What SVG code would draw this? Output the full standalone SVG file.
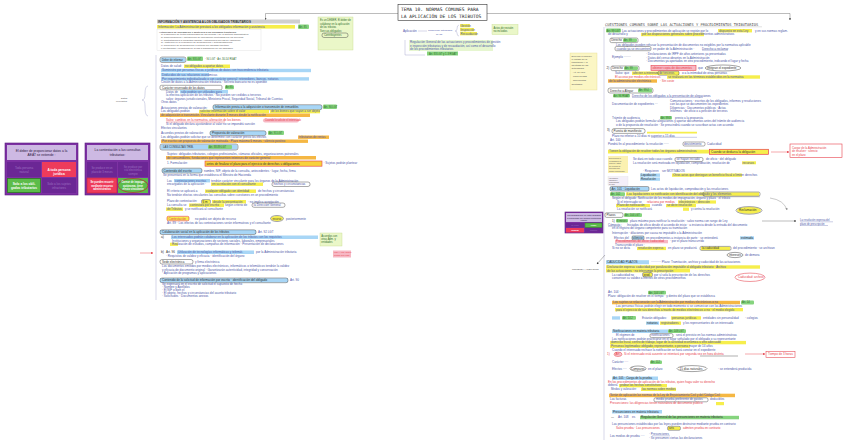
<svg xmlns="http://www.w3.org/2000/svg" width="848" height="447" viewBox="0 0 848 447">
<defs>
<marker id="ah" viewBox="0 0 6 6" refX="5" refY="3" markerWidth="5" markerHeight="5" orient="auto"><path d="M0,0 L6,3 L0,6 z" fill="#333"/></marker>
<marker id="ahr" viewBox="0 0 6 6" refX="5" refY="3" markerWidth="5" markerHeight="5" orient="auto"><path d="M0,0 L6,3 L0,6 z" fill="#e8505a"/></marker>
<marker id="ahg" viewBox="0 0 6 6" refX="5" refY="3" markerWidth="5" markerHeight="5" orient="auto"><path d="M0,0 L6,3 L0,6 z" fill="#888"/></marker>
</defs>
<style>
text{font-family:"Liberation Sans",Arial,sans-serif}
.t{font-size:3px;fill:#4b56a8}
.ts{font-size:2.4px;fill:#555}
.tk{font-size:3px;fill:#333}
.tr{font-size:3px;fill:#e8404c}
.tg{font-size:2.6px;fill:#2e6b2a}
.th{font-family:"DejaVu Sans Mono",monospace;fill:#222}
.hy{fill:#f6ee4c}
.ho{fill:#f5b743}
.hb{fill:#a8d6f6}
.hg{fill:#86d47e}
.hp{fill:#f7b8c4}
.hgr{fill:#cfcfcf}
.bx{fill:none;stroke:#444;stroke-width:.45}
.bxr{fill:none;stroke:#e8404c;stroke-width:.6}
.ov{fill:none;stroke:#333;stroke-width:.45}
.ln{fill:none;stroke:#555;stroke-width:.4}
.lnl{fill:none;stroke:#8a8fc0;stroke-width:.35}
.note{fill:#eaf7c8;stroke:#c5dc8e;stroke-width:.4}
.pur{fill:#7d31a3;stroke:#5b1c80;stroke-width:.6}
.phd{fill:#cdb9e3}
.pdk{fill:#6b2795}
.pred{fill:#ee3b5b}
.pgr{fill:#5cbc4a}
.ph{font-size:3.3px;fill:#2a1740;text-anchor:middle}
.pw{font-size:3.2px;fill:#fff;text-anchor:middle;font-weight:bold}
.pf{font-size:3px;fill:#9c6fc0;text-anchor:middle}
</style>
<rect width="848" height="447" fill="#ffffff"/>

<g id="connectors">
<path class="ln" d="M398,13.5 H265.5 V20" marker-end="url(#ah)"/>
<path class="ln" d="M487,13.5 H790 V20" marker-end="url(#ah)"/>
<path class="lnl" d="M156,55 V300"/>
<path class="lnl" d="M604,27 V440"/>
<path class="lnl" d="M148,86 Q145,86 145,94 Q145,100 142,100 Q145,100 145,106 Q145,116 148,116"/>
<path d="M140,253 H153" stroke="#e8505a" stroke-width=".5" fill="none" marker-end="url(#ahr)"/>
<path d="M771,152 H789" stroke="#e8505a" stroke-width=".5" fill="none" marker-end="url(#ahr)"/>
<path d="M745,354 H765" stroke="#e8505a" stroke-width=".5" fill="none" marker-end="url(#ahr)"/>
<path class="ln" d="M605,255 L597,264" marker-end="url(#ah)"/>
<path d="M770,198 Q784,200 787,210" stroke="#888" stroke-width=".45" fill="none" marker-end="url(#ahg)"/>
<path class="ln" d="M762,221 H796" marker-end="url(#ah)"/>
<path class="lnl" d="M405,40 V55 H425"/>
<path class="lnl" d="M418,31 H427"/>
<path class="lnl" d="M459,25 Q457,25 457,29 Q457,31 455,31 Q457,31 457,33 Q457,36 459,36"/>
<path class="lnl" d="M335,38 V45" marker-end="url(#ah)"/>
</g>

<g id="title">
<rect x="398" y="4.5" width="89" height="16" fill="#fff" stroke="#333" stroke-width=".6"/>
<text class="th" x="401" y="11" style="font-size:4.6px">TEMA 10. NORMAS COMUNES PARA</text>
<text class="th" x="401" y="18" style="font-size:4.6px">LA APLICACIÓN DE LOS TRIBUTOS</text>
</g>

<g id="aplicacion">
<text class="t" x="403" y="32">Aplicación</text>
<text class="t" x="428" y="31" style="font-size:2.3px">Comprende actividades</text>
<text class="t" x="436" y="34.5" style="font-size:2.3px">de las</text>
<rect class="hy" x="460" y="24" width="10" height="3.3"/>
<text class="t" x="460.5" y="26.5">Gestión</text>
<rect class="hy" x="460" y="28" width="14" height="3.3"/>
<text class="t" x="460.5" y="30.5">Inspección</text>
<rect class="hy" x="460" y="32" width="17" height="3.3"/>
<text class="t" x="460.5" y="34.5">Recaudación</text>
<rect class="note" x="492" y="24.5" width="26" height="10"/>
<text class="tg" x="493.5" y="28.5">Actos de revisión</text>
<text class="tg" x="493.5" y="32">no incluidos</text>
<rect fill="#e6f6d0" x="409" y="40" width="84" height="11"/>
<text class="t" x="410" y="43">Regulación General de las actuaciones y procedimientos de gestión</text>
<text class="t" x="410" y="46.5">e inspección tributarias y de recaudación, así como el desarrollo</text>
<text class="t" x="410" y="50">de los procedimientos tributarios</text>
<rect class="hg" x="427" y="51.5" width="31" height="4"/>
<text class="tg" x="429" y="54.5">Art. 83 LGT y 1-3 RGAT</text>
</g>

<g id="sticky-colab">
<rect class="note" x="318" y="17" width="35" height="33"/>
<text class="tg" x="320" y="21">Es un DEBER. El deber de</text>
<text class="tg" x="320" y="24.5">colaborar en la aplicación</text>
<text class="tg" x="320" y="28">de los tributos</text>
<text class="tg" x="320" y="31.5">Son sus obligados:</text>
<rect class="bx" x="322" y="33" width="26" height="4.5" rx="2"/>
<text class="tg" x="324" y="36.3">Contribuyentes</text>
</g>

<g id="left-info">
<rect class="hgr" x="157" y="19.5" width="143" height="4"/>
<text class="tk" x="158" y="22.5" font-weight="bold">INFORMACIÓN Y ASISTENCIA A LOS OBLIGADOS TRIBUTARIOS</text>
<rect class="hy" x="157" y="25" width="138" height="3.6"/>
<text class="t" x="158" y="27.6">Información: La Administración prestará a los obligados información y asistencia</text>
<rect class="hg" x="298" y="24.6" width="11" height="4.4" rx="1"/>
<text class="tg" x="299" y="27.8">Art. 85</text>
<rect fill="#fff" stroke="#ddd" stroke-width=".4" x="157" y="29.5" width="104" height="21"/>
<text class="ts" x="159" y="32.5" font-weight="bold">Actuaciones de información y asistencia a los obligados tributarios:</text>
<text class="ts" x="161" y="35.2">a) Publicación de textos actualizados de las normas y de la doctrina administrativa.</text>
<text class="ts" x="161" y="37.9">b) Comunicaciones y actuaciones de información efectuadas por los servicios.</text>
<text class="ts" x="161" y="40.6">c) Contestaciones a consultas escritas y actuaciones previas de valoración.</text>
<text class="ts" x="161" y="43.3">d) Asistencia en la realización de declaraciones y autoliquidaciones.</text>
<text class="ts" x="161" y="46">e) Confección de declaraciones a petición del obligado tributario.</text>
<text class="ts" x="161" y="48.7">f) Certificados y programas de ayuda a disposición de los obligados.</text>
</g>

<g id="left-colab">
<rect class="hb" x="160.5" y="57.5" width="25" height="4.5" rx="1.5"/>
<rect class="bx" x="160" y="57" width="26" height="5.5" rx="2"/>
<text class="tk" x="162" y="60.8" style="font-size:2.6px">Deber de informar</text>
<rect class="hg" x="187" y="56.5" width="16" height="4.5" rx="1"/>
<text class="tg" x="188" y="59.6">Art. 93 LGT</text>
<text class="tg" x="205" y="59.6">· 94 LGT · Art. 30-54 RGAT</text>
<text class="t" x="161" y="67">Datos de salud:</text>
<rect class="hy" x="184" y="64.5" width="46" height="3.5"/>
<text class="t" x="185" y="67">no obligados a aportar datos</text>
<rect class="hb" x="161" y="68.8" width="150" height="3.4"/>
<text class="t" x="162" y="71.3">Suministro por personas físicas o jurídicas de datos con trascendencia tributaria</text>
<rect class="hb" x="161" y="73" width="48" height="3.4"/>
<text class="t" x="162" y="75.5">Deducidos de sus relaciones económicas</text>
<rect class="hb" x="161" y="77.2" width="148" height="3.4"/>
<text class="t" x="162" y="79.7">Por requerimiento individualizado o con carácter general: retenedores, bancos, notarios</text>
<text class="t" x="161" y="83">Cesión de datos a la Administración tributaria · Secreto bancario no es oponible</text>
</g>

<g id="left-reserva">
<rect class="bx" x="160" y="85.3" width="62" height="4.5" rx="1.5"/>
<text class="tk" x="162" y="88.6">Carácter reservado de los datos</text>
<rect class="hg" x="225" y="85.3" width="9" height="4" rx="1"/>
<text class="tg" x="225.8" y="88.3">Art 95</text>
<text class="t" x="166" y="92.5">Datos de</text>
<rect class="hb" x="180" y="90" width="48" height="3.4"/>
<text class="t" x="181" y="92.5">sólo podrán ser utilizados para</text>
<text class="t" x="166" y="96">la efectiva aplicación de los tributos · No pueden ser cedidos a terceros</text>
<text class="t" x="166" y="99.5">salvo: órganos jurisdiccionales, Ministerio Fiscal, Seguridad Social, Tribunal de Cuentas</text>
<text class="t" x="161" y="103">Otros datos</text>
</g>

<g id="left-valoracion">
<text class="t" x="161" y="108.5">Actuaciones previas de valoración:</text>
<rect class="hb" x="213" y="105" width="109" height="4.5" rx="1.5"/>
<rect class="bx" x="213" y="104.7" width="109" height="5" rx="2"/>
<text class="tk" x="215" y="108.4">Información previa a la adquisición o transmisión de inmuebles</text>
<rect class="hg" x="323" y="104.5" width="14" height="4.5" rx="1"/>
<text class="tg" x="324" y="107.8">Art. 90 LGT</text>
<text class="t" x="161" y="112.3">Los obligados podrán</text>
<rect class="hy" x="199" y="109.8" width="70" height="3.5"/>
<text class="t" x="200" y="112.3">solicitar información sobre el valor</text>
<rect class="hy" x="270" y="109.8" width="50" height="3.5"/>
<text class="t" x="271" y="112.3">de los bienes que vayan a ser objeto</text>
<rect class="ho" x="160" y="113.5" width="150" height="3.5"/>
<text class="t" x="161" y="116">de adquisición o transmisión. Vinculante durante 3 meses desde la notificación</text>
<text class="tr" x="166" y="121">Salvo: cambios en la normativa, alteración de los bienes</text>
<path d="M166,122 H225" stroke="#e8404c" stroke-width=".4"/>
<rect class="hp" x="263" y="118.5" width="36" height="4" rx="2"/>
<text class="tr" x="265" y="121.4" style="font-size:2.6px">Cuando lo solicite el interesado</text>
<text class="t" x="166" y="125">Si el obligado declara ajustándose al valor no se impondrá sanción</text>
<text class="t" x="161" y="128.5">Efectos vinculantes</text>
</g>

<g id="left-acuerdos">
<text class="t" x="161" y="134">Acuerdos previos de valoración:</text>
<rect class="hb" x="210" y="131" width="56" height="4.3" rx="1.5"/>
<rect class="bx" x="210" y="130.8" width="56" height="4.8" rx="2"/>
<text class="tk" x="212" y="134.2">Propuesta de valoración</text>
<rect class="hg" x="268" y="130.8" width="16" height="4.3" rx="1"/>
<text class="tg" x="269" y="134">Art. 91 LGT</text>
<text class="t" x="161" y="138">Los obligados podrán solicitar que se determine con carácter previo los efectos</text>
<rect class="ho" x="298" y="135.5" width="31" height="3.4"/>
<text class="t" x="299" y="138">tributarios de rentas</text>
<rect class="ho" x="161" y="139.5" width="147" height="3.4"/>
<text class="t" x="162" y="142">Por escrito con propuesta de valoración motivada · Plazo máximo 6 meses · silencio positivo</text>
</g>

<g id="left-consultas">
<rect class="hb" x="160.5" y="144.5" width="77" height="5" rx="1.5"/>
<rect class="bx" x="160" y="144" width="78" height="6" rx="2"/>
<text class="tk" x="163" y="148.2" style="font-size:2.8px">LAS CONSULTAS TRIB.</text>
<rect class="hg" x="208" y="145" width="24" height="4" rx="1"/>
<text class="tg" x="209" y="148">Art. 88-89 LGT</text>
<text class="t" x="167" y="155">Sujetos: obligados tributarios, colegios profesionales, cámaras oficiales, organizaciones patronales</text>
<rect class="ho" x="166" y="156" width="150" height="3.5"/>
<text class="t" x="167" y="158.5">de consumidores, fundaciones que representen intereses de carácter general</text>
<text class="t" x="167" y="164">1. Formulación:</text>
<rect fill="#f7d23c" stroke="#e8404c" stroke-width=".6" x="205" y="161" width="117" height="5.2"/>
<text class="tk" x="206.5" y="164.5">antes de finalizar el plazo para el ejercicio de derechos u obligaciones</text>
<text class="t" x="323.5" y="164">· Sujetos podrán plantear</text>
<rect class="hb" x="162" y="168.5" width="40" height="4.2" rx="1.5"/>
<rect class="bx" x="162" y="168.2" width="40" height="4.8" rx="2"/>
<text class="tk" x="163.5" y="171.6">Contenido del escrito</text>
<text class="t" x="204" y="171.6">nombre, NIF, objeto de la consulta, antecedentes · lugar, fecha, firma</text>
<text class="t" x="163" y="175.5">Se presentará en la forma que establezca el Ministro de Hacienda</text>
<text class="t" x="167" y="181.5">Las</text>
<rect class="hb" x="174" y="179" width="36" height="3.4"/>
<text class="t" x="175" y="181.5">contestaciones escritas</text>
<text class="t" x="211" y="181.5">tendrán carácter vinculante para los órganos de la Administración</text>
<text class="t" x="167" y="185">encargados de la aplicación ·</text>
<rect class="hy" x="211" y="182.5" width="52" height="3.4"/>
<text class="t" x="212" y="185">en su relación con el consultante</text>
<rect class="bx" x="272" y="182" width="38" height="4.5" rx="2"/>
<text class="t" x="273.5" y="185.2">hechos y circunstancias</text>
<text class="t" x="167" y="192">El criterio se aplicará a</text>
<rect class="hy" x="205" y="189.5" width="51" height="3.4"/>
<text class="t" x="206" y="192">cualquier obligado con identidad</text>
<text class="t" x="258" y="192">de hechos y circunstancias</text>
<text class="t" x="167" y="195.5">No tendrán efectos vinculantes las consultas sobre cuestiones en un procedimiento</text>
<text class="t" x="167" y="202">Plazo de contestación:</text>
<rect class="hy" x="202" y="200" width="8" height="3.6"/>
<rect class="bx" x="201.5" y="199.6" width="9" height="4.4" rx="1.5"/>
<text class="tk" x="202.6" y="202.5">6 m</text>
<rect class="hy" x="212" y="200" width="34" height="3.4"/>
<text class="t" x="213" y="202.5">desde la presentación</text>
<text class="t" x="248" y="202.5">· no implica aceptación</text>
<text class="t" x="167" y="206">La consulta se</text>
<rect class="hy" x="189" y="203.5" width="35" height="3.4"/>
<text class="t" x="190" y="206">contestará por escrito</text>
<text class="t" x="225" y="206">según criterio de</text>
<rect class="bx" x="252" y="203" width="33" height="4.3" rx="2"/>
<text class="t" x="253.5" y="206">la Dirección General</text>
<rect class="hy" x="166" y="207.5" width="17" height="3.4"/>
<text class="t" x="167" y="210">de Tributos</text>
<text class="t" x="185" y="210">y se notificará al consultante</text>
<rect class="hy" x="167" y="216.5" width="22" height="4"/>
<rect class="bxr" x="167" y="216.3" width="22" height="4.5" rx="1.5"/>
<text class="tr" x="168.5" y="219.6">Contestación</text>
<text class="t" x="195" y="219.5">no podrá ser objeto de recurso</text>
<ellipse class="hy" cx="277" cy="218.5" rx="6" ry="2.6"/>
<ellipse class="ov" cx="277" cy="218.5" rx="6.5" ry="3"/>
<text class="tk" x="272.5" y="219.6" style="font-size:2.6px">recurso</text>
<text class="t" x="286" y="219.5">posteriormente</text>
<text class="t" x="167" y="223.5">Art. 89 · Los efectos de las contestaciones serán informativos y el consultante</text>
</g>

<g id="left-colaboracion">
<rect class="hb" x="160" y="230" width="96" height="4.2"/>
<rect class="bx" x="160" y="229.8" width="96" height="4.7" rx="2"/>
<text class="tk" x="162" y="233.2">Colaboración social en la aplicación de los tributos</text>
<text class="t" x="258" y="233">Art. 92 LGT</text>
<text class="tk" x="161" y="238" style="font-size:3.3px">a)</text>
<rect class="hb" x="171" y="235.5" width="147" height="3.5"/>
<text class="t" x="172" y="238">Los interesados podrán colaborar en la aplicación de los tributos con los requisitos</text>
<text class="t" x="172" y="241.8">Instituciones y organizaciones de sectores sociales, laborales, empresariales</text>
<rect class="hy" x="170" y="242.7" width="8" height="3.2"/>
<text class="t" x="172" y="245.4">Realización de estudios, campañas de información · Presentación de declaraciones</text>
<rect class="note" x="320" y="233" width="22" height="13"/>
<text class="tg" x="321.3" y="236.5">Acuerdos con</text>
<text class="tg" x="321.3" y="239.5">otras Adm. y</text>
<text class="tg" x="321.3" y="242.5">entidades</text>
<text class="tk" x="161" y="253" style="font-size:3.2px">b)</text>
<text class="tk" x="166" y="253">Art. 96</text>
<rect class="hb" x="177" y="250.5" width="77" height="3.5"/>
<text class="t" x="178" y="253">Utilización de tecnologías informáticas y telemát.</text>
<text class="t" x="256" y="253">por la Administración tributaria</text>
<rect class="hp" x="333" y="250.5" width="18" height="7"/>
<text class="tr" x="334" y="253.3" style="font-size:2.2px">Las AA.PP. deben</text>
<text class="tr" x="334" y="256.3" style="font-size:2.2px">contar con ellas</text>
<text class="t" x="166" y="257">· Requisitos de validez y eficacia · identificación del órgano</text>
<rect class="bx" x="160" y="259.5" width="33" height="4.5" rx="2"/>
<text class="tk" x="162" y="262.8">Sede electrónica</text>
<text class="t" x="195" y="262.8">y firma electrónica</text>
<text class="t" x="162" y="267">Los documentos emitidos por medios electrónicos, informáticos o telemáticos tendrán la validez</text>
<text class="t" x="162" y="270.5">y eficacia de documento original · Garantizarán autenticidad, integridad y conservación</text>
<text class="t" x="162" y="274">· Aplicación de programas y aplicaciones</text>
<rect class="hb" x="160" y="278.2" width="128" height="4.2"/>
<rect class="bx" x="160" y="278" width="128" height="4.7" rx="2"/>
<text class="tk" x="162" y="281.4">Contenido de la solicitud de información por escrito · identificación del obligado</text>
<text class="t" x="290" y="281.3">Art. 90</text>
<text class="t" x="162" y="284.8">Se expresará en el escrito de solicitud el supuesto de hecho</text>
<text class="t" x="162" y="288.3">· Nombre y Apellidos</text>
<text class="t" x="162" y="291.3">· El NIF o bien el</text>
<text class="t" x="162" y="294.3">· El objeto, hechos y circunstancias del asunto tributario</text>
<text class="t" x="162" y="297.3">· Solicitudes · Documentos anexos</text>
</g>

<g id="q-datos">
<text class="ts" x="121" y="98.5">Datos</text>
<text class="ts" x="116" y="101.5">relevantes</text>
</g>

<g id="quiz-datos">
<rect class="pur" x="5" y="143" width="73" height="52"/>
<rect class="phd" x="7" y="145" width="69" height="15"/>
<text class="ph" x="41.5" y="151.5">El deber de proporcionar datos a la</text>
<text class="ph" x="41.5" y="156">AEAT se extiende :</text>
<rect class="pdk" x="7" y="162" width="34" height="15"/>
<text class="pf" x="24" y="168.5">Toda persona</text>
<text class="pf" x="24" y="172.5">natural</text>
<rect class="pred" x="42" y="162" width="34" height="15"/>
<text class="pw" x="59" y="170.5">A toda persona</text>
<text class="pw" x="59" y="174.5">jurídica</text>
<rect class="pgr" x="7.5" y="178.5" width="33" height="14" stroke="#2d7a24" stroke-width=".8"/>
<text class="pw" x="24" y="184.5">Solo a los obli-</text>
<text class="pw" x="24" y="188.5">gados tributarios</text>
<rect class="pdk" x="42" y="178" width="34" height="15"/>
<text class="pf" x="59" y="184.5">Solo a los sujetos</text>
<text class="pf" x="59" y="188.5">infractores</text>
</g>

<g id="quiz-consultas">
<rect class="pur" x="85" y="143" width="65" height="52"/>
<rect class="phd" x="87" y="145" width="61" height="15"/>
<text class="ph" x="117.5" y="151">La contestación a las consultas</text>
<text class="ph" x="117.5" y="155.5">tributarias:</text>
<rect class="pdk" x="87" y="162" width="30" height="15"/>
<text class="pf" x="102" y="168.5" style="font-size:2.7px">Se produce en un</text>
<text class="pf" x="102" y="172.5" style="font-size:2.7px">plazo de 3 meses</text>
<rect class="pdk" x="118" y="162" width="30" height="15"/>
<text class="pf" x="133" y="167.5" style="font-size:2.7px">Se produce por</text>
<text class="pf" x="133" y="171" style="font-size:2.7px">vía electrónica</text>
<text class="pf" x="133" y="174.5" style="font-size:2.7px">siempre</text>
<rect class="pred" x="87" y="178" width="30" height="15" stroke="#c0203a" stroke-width=".6"/>
<text class="pw" x="102" y="183" style="font-size:2.6px">Se pueden recurrir</text>
<text class="pw" x="102" y="186.5" style="font-size:2.6px">mediante recurso</text>
<text class="pw" x="102" y="190" style="font-size:2.6px">administrativo</text>
<rect class="pgr" x="118" y="178" width="30" height="15"/>
<ellipse cx="133" cy="185.5" rx="15" ry="7" fill="none" stroke="#c0203a" stroke-width=".7"/>
<text class="pw" x="133" y="183" style="font-size:2.6px">Carece de impugn.</text>
<text class="pw" x="133" y="186.5" style="font-size:2.6px">autónoma, tiene</text>
<text class="pw" x="133" y="190" style="font-size:2.6px">efecto vinculante</text>
</g>

<g id="quiz-medios">
<rect class="pur" x="565" y="212" width="38" height="21"/>
<rect class="phd" x="566" y="213" width="36" height="9"/>
<text class="ph" x="584" y="216" style="font-size:2px">Los obligados que no estén obligados</text>
<text class="ph" x="584" y="218.5" style="font-size:2px">a relacionarse por medios electrónicos</text>
<text class="ph" x="584" y="221" style="font-size:2px">podrán:</text>
<rect class="pdk" x="566" y="223" width="18" height="4.5"/>
<text class="pf" x="575" y="226.2" style="font-size:2px">no elegir</text>
<rect class="pgr" x="585" y="223" width="17" height="4.5" stroke="#2d7a24" stroke-width=".5"/>
<text class="pw" x="593.5" y="226.2" style="font-size:2px">elegir</text>
<rect class="pred" x="566" y="228" width="18" height="4.5"/>
<text class="pw" x="575" y="231.2" style="font-size:2px">cambiar</text>
<rect class="pdk" x="585" y="228" width="17" height="4.5"/>
<text class="pf" x="593.5" y="231.2" style="font-size:2px">ninguna</text>
<text class="ts" x="572" y="270">NOMBRE Y APELLIDOS</text>
</g>

<g id="sticky-yellow">
<rect fill="#fbf6c4" stroke="#e6dc8a" stroke-width=".4" x="570" y="53" width="27" height="37"/>
<text class="ts" x="571.5" y="57">Derecho a conocer</text>
<text class="ts" x="571.5" y="60">el estado de la</text>
<text class="ts" x="571.5" y="63">tramitación y la</text>
<text class="ts" x="571.5" y="66">identidad de las</text>
<text class="ts" x="571.5" y="69">autoridades</text>
<text class="ts" x="571.5" y="73">· Art. 34 LGT</text>
<text class="ts" x="571.5" y="77">· copia sellada</text>
<text class="ts" x="571.5" y="81">· documentos</text>
<text class="ts" x="571.5" y="85">aportados</text>
</g>

<g id="right-head">
<text class="th" x="605" y="25.5" style="font-size:3.7px;fill:#444">CUESTIONES COMUNES SOBRE LAS ACTUACIONES Y PROCEDIMIENTOS TRIBUTARIOS</text>
<path d="M605,26.8 H762" stroke="#999" stroke-width=".3"/>
<rect class="hg" x="606" y="28.6" width="15" height="4" rx="1"/>
<text class="tg" x="606.8" y="31.6">Art. 99 LGT</text>
<text class="t" x="622" y="31.6">Las actuaciones y procedimientos de aplicación se regirán por lo</text>
<rect class="hy" x="718" y="29" width="34" height="3.4"/>
<text class="t" x="719" y="31.6">dispuesto en esta Ley</text>
<text class="t" x="755" y="31.6">y en sus normas reglam.</text>
<text class="t" x="608" y="35.4">de desarrollo y</text>
<rect class="hy" x="641" y="32.8" width="63" height="3.4"/>
<text class="t" x="642" y="35.4">por las disposiciones generales sobre procedimientos administrativos</text>
</g>

<g id="right-derechos">
<rect class="bx" x="610" y="38" width="28" height="4.6" rx="1.5"/>
<text class="tk" x="611.3" y="41.3" style="font-size:2.8px">Derecho</text>
<rect class="hg" x="623" y="38.6" width="14" height="3.5" rx="1"/>
<text class="tg" x="624" y="41.2">Art. 99</text>
<text class="t" x="616" y="45.5">Los obligados pueden rehusar la presentación de documentos no exigibles por la normativa aplicable</text>
<rect class="bx" x="615" y="46.5" width="36" height="4.2" rx="1.5"/>
<text class="t" x="616.5" y="49.5">cuando ya se encuentren</text>
<text class="t" x="653" y="49.5">en poder de la Administración ·</text>
<text class="t" x="702" y="49.5">Derecho a reclamar</text>
<path d="M702,50.3 H728" stroke="#4b56a8" stroke-width=".3"/>
<text class="t" x="612" y="57.5">Ejemplo ·······</text>
<text class="t" x="646" y="55">· Declaraciones de IRPF de años anteriores ya presentadas</text>
<text class="t" x="646" y="58.5">· Datos del censo obrantes en la Administración</text>
<text class="t" x="646" y="62">· Documentos ya aportados en otro procedimiento, indicando el lugar y fecha</text>
<text class="tk" x="606.5" y="69">2)</text>
<rect class="bx" x="611" y="66" width="28" height="4.6" rx="1.5"/>
<text class="tk" x="612.3" y="69.3" style="font-size:2.8px">Derecho</text>
<rect class="hg" x="624" y="66.6" width="14" height="3.5" rx="1"/>
<text class="tg" x="625" y="69.2">Art. 99</text>
<rect class="hp" x="651" y="65.5" width="45" height="4.8"/>
<rect class="bxr" x="651" y="65.5" width="45" height="4.8"/>
<text class="tr" x="652.5" y="68.9">obtener copia de documentos</text>
<text class="t" x="698" y="68.9">que</text>
<ellipse class="ov" cx="723" cy="68" rx="18" ry="3"/>
<text class="tk" x="707" y="69">integran el expediente</text>
<text class="t" x="615" y="74">Salvo: que</text>
<rect class="hy" x="632" y="71.5" width="47" height="3.4"/>
<text class="t" x="633" y="74">afecten a intereses de terceros</text>
<rect class="bx" x="658" y="71.2" width="21" height="4" rx="1.5"/>
<text class="t" x="682" y="74">o a la intimidad de otras personas</text>
<text class="tr" x="615" y="77.8">El acceso por medios electrónicos</text>
<rect class="hy" x="667" y="75.3" width="93" height="3.4"/>
<text class="t" x="668" y="77.8">se realizará en los términos establecidos en la normativa</text>
<rect class="ho" x="608" y="79.3" width="49" height="3.4"/>
<text class="t" x="609" y="81.8">de la administración electrónica</text>
<text class="tr" x="660" y="81.8">· Sin coste</text>
</g>

<g id="right-alegar">
<rect class="bx" x="608" y="88" width="45" height="5" rx="2"/>
<text class="tk" x="610" y="91.6">Derecho a Alegar</text>
<rect class="hg" x="638" y="88.6" width="14" height="3.8" rx="1"/>
<text class="tg" x="639" y="91.4">Art. 99.4</text>
<rect class="hg" x="613" y="94" width="17" height="3.6" rx="1"/>
<text class="tg" x="613.8" y="96.8">Art. 96 RGAT</text>
<text class="t" x="632" y="96.8">Derecho de los obligados a la presentación de alegaciones</text>
<path d="M632,97.5 H703" stroke="#4b56a8" stroke-width=".3"/>
<text class="t" x="612" y="104.5">Documentación de expedientes ···</text>
<text class="t" x="670" y="101.5">Comunicaciones · escritos de los obligados, informes y resoluciones</text>
<text class="t" x="670" y="105">con las que se documenten los expedientes</text>
<text class="t" x="670" y="108.5">Diligencias · Documentos públicos · Actas</text>
<text class="t" x="670" y="112">Informes · de oficio o a petición de terceros</text>
<text class="t" x="612" y="118.5">Trámite de audiencia</text>
<rect class="hg" x="660" y="116" width="12" height="3.5" rx="1"/>
<text class="tg" x="661" y="118.7">Art. 99.8</text>
<text class="t" x="675" y="118.5">previo a la propuesta</text>
<text class="t" x="616" y="122">Los obligados podrán formular alegaciones y aportar documentos antes del trámite de audiencia</text>
<text class="t" x="616" y="125.5">o de la propuesta de resolución · Se prescindirá cuando se suscriban actas con acuerdo</text>
<text class="tk" x="607" y="131">3)</text>
<rect class="bx" x="612" y="128.6" width="33" height="4.8" rx="2"/>
<text class="tk" x="613.5" y="132">Puesta de manifiesto</text>
<path d="M647,132.6 H697" stroke="#f6ee4c" stroke-width="1.8"/>
<text class="t" x="612" y="136.5">Plazo no inferior a 10 días ni superior a 15 días</text>
<path d="M651,137.3 H697" stroke="#4b56a8" stroke-width=".3"/>
</g>

<g id="right-terminacion">
<text class="t" x="610" y="141.2">Art. 100</text>
<text class="t" x="608" y="145">Pondrá fin al procedimiento: la resolución ·····</text>
<rect class="bx" x="683" y="142" width="22" height="4" rx="1.5"/>
<text class="t" x="684" y="145">desistimiento</text>
<text class="t" x="707" y="145">Caducidad</text>
<rect class="hy" x="608" y="149.7" width="101" height="3.8"/>
<text class="t" x="609" y="152.4">Tienen la obligación de resolver todos los órganos administrativos</text>
<rect fill="#f6ee4c" stroke="#e8404c" stroke-width=".7" x="709.5" y="149.3" width="59" height="5"/>
<text class="tk" x="711" y="152.7">Cuando se deduzca la obligación</text>
<rect fill="#fff" stroke="#e8404c" stroke-width=".6" x="790" y="144" width="52" height="13.5"/>
<text class="tr" x="792" y="148.8" style="font-size:2.8px">Cargar de la Administración</text>
<text class="tr" x="792" y="152.4" style="font-size:2.8px">de resolver · silencio</text>
<text class="tr" x="792" y="156" style="font-size:2.8px">en el plazo</text>
<rect fill="#fbf1b0" x="608" y="156" width="20" height="17"/>
<text class="ts" x="609" y="159" style="font-size:1.8px">Excepciones a</text>
<text class="ts" x="609" y="161.5" style="font-size:1.8px">la obligación de</text>
<text class="ts" x="609" y="164" style="font-size:1.8px">resolver: actos</text>
<text class="ts" x="609" y="166.5" style="font-size:1.8px">de ejercicio de</text>
<text class="ts" x="609" y="169" style="font-size:1.8px">derechos que</text>
<text class="ts" x="609" y="171.5" style="font-size:1.8px">deban comunicarse</text>
<rect fill="#f4eff9" stroke="#ddd" stroke-width=".3" x="608" y="176.5" width="20" height="9"/>
<text class="ts" x="609" y="178.8" style="font-size:1.6px">Los actos de</text>
<text class="ts" x="609" y="180.7" style="font-size:1.6px">liquidación y</text>
<text class="ts" x="609" y="182.6" style="font-size:1.6px">comprobación</text>
<text class="ts" x="609" y="184.5" style="font-size:1.6px">de valor</text>
<text class="t" x="633" y="160">Se dará en todo caso cuando</text>
<rect class="bx" x="675" y="157.5" width="28" height="4" rx="1.5"/>
<text class="t" x="676.5" y="160">se hayan iniciado</text>
<text class="t" x="706" y="160">de oficio · del obligado</text>
<text class="t" x="633" y="163.5">La resolución será motivada en liquidación, comprobación, resolución de</text>
<rect class="hy" x="742" y="161.3" width="14" height="3"/>
<text class="t" x="742.5" y="163.5">recursos</text>
<text class="t" x="643" y="172">· Requieren</text>
<text class="t" x="662" y="172">ser MOTIVADOS</text>
<rect class="hb" x="640" y="173.5" width="20" height="3.3"/>
<text class="tk" x="641" y="175.9">Liquidación</text>
<rect class="hy" x="672" y="173.5" width="70" height="3.3"/>
<text class="t" x="673" y="175.9">Otros actos que deniegan un beneficio fiscal o limiten derechos</text>
<rect class="hb" x="640" y="177.5" width="20" height="3.3"/>
<text class="tk" x="641" y="179.9">Resolución</text>
<rect class="hb" x="610" y="186.8" width="39" height="4" rx="1"/>
<rect class="bx" x="610" y="186.5" width="39" height="4.5" rx="1.5"/>
<text class="tk" x="611.5" y="189.8">Art. 101 · Liquidación</text>
<text class="t" x="651" y="189.8">Los actos de liquidación, comprobación y las resoluciones</text>
<rect class="hg" x="610" y="192.2" width="15" height="3.8" rx="1"/>
<text class="tg" x="611" y="195">Art. 102</text>
<rect class="hy" x="626" y="192.4" width="133" height="3.4"/>
<text class="t" x="627" y="195">Las liquidaciones se notificarán con identificación del obligado y los elementos</text>
<rect class="bx" x="703" y="192" width="57" height="4.2" rx="1.5"/>
</g>

<g id="right-plazos">
<text class="t" x="612" y="199.4">Según el obligado: Notificación de los medios de impugnación, órgano y plazo · el tributo</text>
<path d="M612,196.8 H760" stroke="#555" stroke-width=".3"/>
<text class="t" x="617" y="202.7">Si el interesado se</text>
<text class="tr" x="647" y="202.7">relaciona por medios</text>
<rect class="hy" x="678" y="200.4" width="38" height="3.2"/>
<text class="t" x="679" y="202.7">electrónicos · dirección</text>
<rect class="hy" x="616" y="204" width="34" height="3.2"/>
<text class="t" x="617" y="206.3">Plazo de notificación</text>
<text class="t" x="652" y="206.3">cuando</text>
<rect class="hy" x="666" y="204" width="30" height="3.2"/>
<text class="t" x="667" y="206.3">se dicte resolución</text>
<text class="t" x="617" y="210">La resolución se notificará</text>
<rect class="hy" x="683" y="207.6" width="6" height="3.2"/>
<text class="t" x="691" y="210">y contra la resolución</text>
<ellipse class="hy" cx="749" cy="210.4" rx="12" ry="3.3"/>
<ellipse class="ov" cx="749" cy="210.4" rx="13" ry="3.8"/>
<text class="tk" x="739" y="211.4">Reclamación</text>
<rect class="bx" x="605" y="212.8" width="18" height="4.6" rx="1.5"/>
<text class="tk" x="606.5" y="216.2">Plazos</text>
<rect class="hg" x="624" y="213.2" width="18" height="3.8" rx="1"/>
<text class="tg" x="625" y="216">Art. 104 LGT</text>
<text class="tk" x="612" y="221.6">1)</text>
<rect class="hg" x="616" y="219" width="12" height="3.6" rx="1"/>
<text class="tg" x="617" y="221.7">6 meses</text>
<text class="t" x="630" y="221.6">plazo máximo para notificar la resolución · salvo norma con rango de Ley</text>
<text class="t" x="800" y="221" style="font-size:2.6px">La resolución expresa del</text>
<path d="M800,221.8 H833" stroke="#4b56a8" stroke-width=".3"/>
<text class="t" x="800" y="224.8" style="font-size:2.6px">plazo de prescripción</text>
<path d="M800,225.5 H828" stroke="#4b56a8" stroke-width=".3"/>
<text class="t" x="608" y="225.5">Cómputo ·</text>
<path d="M608,226.3 H622" stroke="#4b56a8" stroke-width=".3"/>
<text class="t" x="627" y="225.5">Iniciados de oficio desde el acuerdo de inicio · a instancia desde la entrada del documento</text>
<text class="t" x="612" y="229">en el registro del órgano competente para su tramitación</text>
<text class="t" x="612" y="233.5">Interrupción · dilaciones por causa no imputable a la Administración</text>
<text class="t" x="614" y="238.8">Efectos del</text>
<rect class="hb" x="632" y="236.3" width="12" height="3.3"/>
<rect class="bx" x="632" y="236" width="12" height="3.9" rx="1"/>
<text class="tk" x="632.6" y="238.8">silencio</text>
<text class="t" x="646" y="238.8">en procedimientos a instancia de parte · se entenderá</text>
<rect class="hb" x="740" y="236.3" width="14" height="3.3"/>
<text class="tk" x="741" y="238.8">estimada</text>
<rect class="hp" x="615" y="240" width="53" height="3.3"/>
<text class="tr" x="616" y="242.4">Procedimientos de oficio: caducidad</text>
<text class="t" x="670" y="242.4">· por el plazo transcurrido</text>
<text class="t" x="615" y="245.6">Transcurrido el plazo ·</text>
<text class="t" x="612" y="249.2">Si no se dicta</text>
<rect class="hy" x="637" y="246.8" width="29" height="3.3"/>
<text class="t" x="638" y="249.2">resolución expresa</text>
<text class="t" x="668" y="249.2">en plazo se producirá</text>
<rect class="hy" x="701" y="246.8" width="29" height="3.3"/>
<rect class="bx" x="700" y="246.4" width="31" height="4" rx="1.5"/>
<text class="tk" x="702" y="249.2">la caducidad</text>
<text class="t" x="733" y="249.2">del procedimiento · se archivan</text>
<ellipse class="ov" cx="735" cy="255" rx="8" ry="2.6"/>
<text class="tk" x="729" y="255.9">intereses</text>
<text class="t" x="745" y="255.9">de demora</text>
</g>

<g id="right-caducidad">
<rect class="hb" x="606" y="260.2" width="43" height="4"/>
<text class="tk" x="607" y="263.2">CADUCIDAD PLAZOS</text>
<text class="t" x="651" y="263">·········· Plazo: Tramitación, archivo y caducidad de las actuaciones</text>
<rect class="hy" x="606" y="265.3" width="154" height="3.4"/>
<text class="t" x="607" y="267.8">Declaración expresa: caducidad por paralización imputable al obligado tributario · Archivo</text>
<rect class="hy" x="606" y="269" width="84" height="3.4"/>
<text class="t" x="607" y="271.5">de las actuaciones · no interrumpe la prescripción</text>
<text class="t" x="612" y="275.5">La caducidad no</text>
<rect class="hy" x="643" y="273" width="9" height="3.4"/>
<rect class="bx" x="642.5" y="272.6" width="10" height="4.2" rx="1.5"/>
<text class="tk" x="643.5" y="275.5">prod.</text>
<text class="t" x="654" y="275.5">por sí sola la prescripción de los derechos</text>
<ellipse cx="750" cy="277.3" rx="15" ry="4.2" fill="none" stroke="#e8505a" stroke-width=".6"/>
<text class="tr" x="738" y="278.3">Caducidad: archivo</text>
<text class="t" x="612" y="279.3">conservan su validez a efectos de otros procedimientos</text>
</g>

<g id="right-registros">
<text class="t" x="608" y="293.3">Art. 104 ·</text>
<rect class="hg" x="648" y="290.8" width="18" height="3.6" rx="1"/>
<text class="tg" x="649" y="293.5">Art. 104 LGT</text>
<text class="t" x="608" y="297.3">Plazo: obligación de resolver en el tiempo · y dentro del plazo que se establezca</text>
<rect class="ho" x="612" y="300.8" width="128" height="3.5"/>
<text class="t" x="613" y="303.3">Los sujetos se relacionarán con la Administración por medios electrónicos o no</text>
<rect class="hg" x="741" y="300.6" width="13" height="3.8" rx="1"/>
<text class="tg" x="742" y="303.4">Art. 14</text>
<text class="t" x="616" y="307">Las personas físicas podrán elegir en todo momento si se comunican con las Administraciones</text>
<rect class="hy" x="615" y="308" width="128" height="3.3"/>
<text class="t" x="616" y="310.5">para el ejercicio de sus derechos a través de medios electrónicos o no · el medio elegido</text>
<rect class="hb" x="612" y="316.3" width="8" height="3.3"/>
<rect class="hg" x="622" y="316" width="14" height="3.8" rx="1"/>
<text class="tg" x="623" y="318.8">Art. 14.2</text>
<text class="t" x="642" y="318.7">Estarán obligados:</text>
<rect class="hy" x="671" y="316.3" width="30" height="3.3"/>
<text class="t" x="672" y="318.7">personas jurídicas</text>
<text class="t" x="703" y="318.7">entidades sin personalidad</text>
<text class="t" x="745" y="318.7">· colegios</text>
<rect class="hb" x="646" y="321.5" width="13" height="3.3"/>
<text class="tk" x="647" y="323.9">notarios</text>
<rect class="hy" x="660" y="321.5" width="21" height="3.3"/>
<text class="t" x="661" y="323.9">registradores</text>
<text class="t" x="683" y="323.9">y los representantes de un interesado</text>
</g>

<g id="right-notif">
<rect class="hb" x="612" y="329.5" width="56" height="3.5"/>
<text class="tk" x="613" y="332">Notificaciones en materia tributaria</text>
<rect class="hg" x="668" y="329.3" width="18" height="3.8" rx="1"/>
<text class="tg" x="669" y="332.1">Art. 109 LGT</text>
<text class="t" x="616" y="336.3">El régimen de</text>
<rect class="bx" x="650" y="333.6" width="23" height="4" rx="1.5"/>
<text class="t" x="651.3" y="336.3">notificaciones</text>
<text class="t" x="676" y="336.3">será el previsto en las normas administrativas</text>
<text class="t" x="612" y="339.8">Las notificaciones podrán practicarse en el lugar señalado por el obligado o su representante</text>
<rect class="hy" x="610" y="340.9" width="136" height="3.4"/>
<text class="t" x="611" y="343.4">domicilio fiscal, centro de trabajo, lugar de la actividad económica u otro adecuado</text>
<rect class="hy" x="610" y="344.5" width="80" height="3.4"/>
<text class="t" x="611" y="347">Personas legitimadas: obligado, representante, o persona mayor de 14 años</text>
<text class="t" x="612" y="350.5">Cuando el interesado rechace la notificación se hará constar en el expediente</text>
<ellipse cx="618" cy="354.3" rx="4" ry="2.2" fill="#f6c7cd" stroke="#e8404c" stroke-width=".5"/>
<text class="tr" x="607" y="355.2">1)</text>
<text class="tr" x="615.5" y="355.2">Art</text>
<text class="tr" x="624" y="355.2">Si el interesado está ausente se intentará por segunda vez en hora distinta</text>
<path d="M700,356 H738" stroke="#333" stroke-width=".4"/>
<rect fill="#fff" stroke="#e8505a" stroke-width=".6" x="766" y="351.3" width="29" height="6"/>
<text class="tr" x="768" y="355.2">Tiempo de 3 horas</text>
<text class="t" x="612" y="363">Carácter ····</text>
<rect class="hg" x="650" y="360.5" width="12" height="3.6" rx="1"/>
<text class="tg" x="651" y="363.2">Art. 112</text>
<text class="t" x="612" y="369.5">Efectos ····</text>
<ellipse class="ov" cx="638" cy="368.6" rx="8" ry="2.6"/>
<text class="tk" x="631" y="369.5">Comparec.</text>
<text class="t" x="648" y="369.5">en el plazo</text>
<ellipse class="ov" cx="692" cy="368.6" rx="15" ry="3"/>
<text class="tk" x="679.5" y="369.5">15 días naturales</text>
<text class="t" x="718" y="369.5">· se entenderá producida</text>
</g>

<g id="right-prueba">
<rect class="hb" x="612" y="376.5" width="46" height="3.5"/>
<text class="tk" x="613" y="379">Art. 105 · Carga de la prueba</text>
<text class="tr" x="608" y="382.7">En los procedimientos de aplicación de los tributos, quien haga valer su derecho</text>
<text class="t" x="608" y="386.3">deberá</text>
<rect class="hy" x="619" y="384" width="48" height="3.3"/>
<text class="t" x="620" y="386.3">probar los hechos constitutivos</text>
<text class="t" x="611" y="390" style="font-size:2.8px">Medios y valoración:</text>
<rect class="hy" x="641" y="387.7" width="35" height="3.3"/>
<text class="t" x="642" y="390">las normas sobre medios</text>
<rect class="ho" x="609" y="393.7" width="126" height="3.5"/>
<text class="t" x="610" y="396.2">Serán de aplicación las normas de la Ley de Enjuiciamiento Civil y del Código Civil</text>
<text class="t" x="610" y="400.4">Las facturas</text>
<rect class="bx" x="654" y="397.8" width="54" height="4" rx="1.5"/>
<text class="t" x="656" y="400.4">medio prueba preferente de gastos</text>
<text class="t" x="710" y="400.4">deducibles</text>
<text class="tr" x="610" y="404.3">Presunciones: las diligencias tienen naturaleza de documento público</text>
<rect class="hy" x="716" y="402" width="8" height="3.2"/>
<rect class="hb" x="612" y="410" width="50" height="3.5"/>
<text class="tk" x="613" y="412.5">Presunciones en materia tributaria</text>
<text class="tk" x="611" y="418.3">—</text>
<text class="t" x="618" y="418.3">Art. 108</text>
<text class="t" x="632" y="418.3">es</text>
<rect class="hg" x="640" y="415.8" width="99" height="3.5"/>
<text class="tk" x="641" y="418.3">Regulación General de las presunciones en materia tributaria</text>
<text class="t" x="612" y="425">Las presunciones establecidas por las leyes pueden destruirse mediante prueba en contrario</text>
<text class="tr" x="616" y="429">Salvo prueba · Las presunciones</text>
<rect class="hy" x="668" y="426.7" width="12" height="3.3"/>
<rect class="bx" x="667.5" y="426.3" width="13" height="4" rx="1.5"/>
<text class="tk" x="668.5" y="429">iuris</text>
<text class="tr" x="683" y="429">admiten prueba en contrario</text>
<text class="t" x="610" y="437">Los medios de prueba ····</text>
<text class="t" x="649" y="435">· Presunciones</text>
<path d="M652,435.8 H670" stroke="#4b56a8" stroke-width=".3"/>
<text class="t" x="649" y="439">· Se presumen ciertas las declaraciones</text>
</g>
</svg>
